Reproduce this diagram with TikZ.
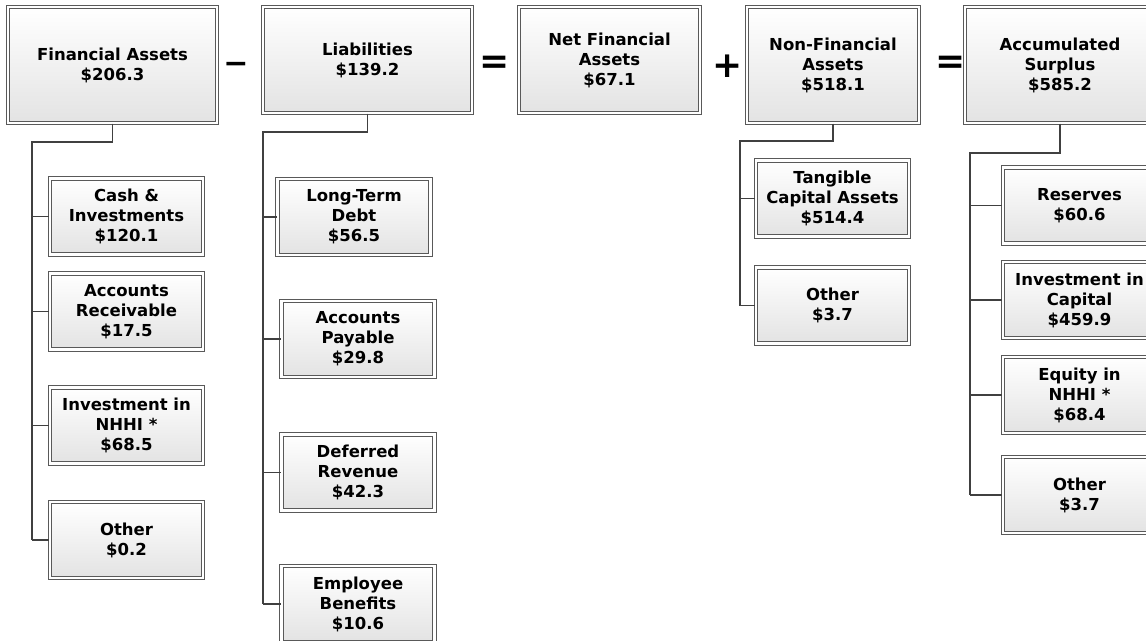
\documentclass[tikz,border=0pt]{standalone}
\usepackage{fontspec}
\setmainfont{DejaVu Sans}
\usetikzlibrary{shadows}

\tikzset{
  acct/.style={draw=black!65, line width=1.2pt, double=white, double distance=2.4pt,
    top color=white, bottom color=black!11, inner sep=0pt, align=center,
    minimum width=153pt, minimum height=76pt,
    drop shadow={shadow xshift=1pt, shadow yshift=-1pt, opacity=0.15},
    font=\bfseries\fontsize{16.5}{20}\selectfont},
  topacct/.style={acct, minimum height=106pt},
  opsign/.style={inner sep=0pt, font=\bfseries\fontsize{36}{36}\selectfont},
  conn/.style={draw=black!75, line width=1.2pt}
}

\begin{document}
\begin{tikzpicture}[x=1pt, y=-1pt]
    \useasboundingbox (0,0) rectangle (1146,640);
    \clip (0,0) rectangle (1146,640);

    \node[topacct, minimum width=209pt, minimum height=116pt] (fin) at (112.5,65) {Financial Assets\\\$206.3};
    \node[topacct, minimum width=209pt] (liab) at (367.5,60) {Liabilities\\\$139.2};
    \node[topacct, minimum width=181pt] (net) at (609.5,60) {Net Financial\\Assets\\\$67.1};
    \node[topacct, minimum width=172pt, minimum height=116pt] (nonfin) at (833,65) {Non-Financial\\Assets\\\$518.1};
    \node[topacct, minimum width=190pt, minimum height=116pt] (surplus) at (1060,65) {Accumulated\\Surplus\\\$585.2};

    \node[opsign, font=\bfseries\fontsize{30}{30}\selectfont] (minus) at (236,68) {−};
    \node[opsign] (eqa) at (495,65) {=};
    \node[opsign] (plus) at (728,66) {+};
    \node[opsign] (eqb) at (951,65) {=};

    \node[acct] (cash) at (126.5,216.5) {Cash \&\\Investments\\\$120.1};
    \node[acct] (recv) at (126.5,311.5) {Accounts\\Receivable\\\$17.5};
    \node[acct] (nhhi) at (126.5,425.5) {Investment in\\NHHI *\\\$68.5};
    \node[acct] (othfin) at (126.5,540) {Other\\\$0.2};

    \node[acct] (debt) at (354,217) {Long-Term\\Debt\\\$56.5};
    \node[acct] (payable) at (358,339) {Accounts\\Payable\\\$29.8};
    \node[acct] (deferred) at (358,472.5) {Deferred\\Revenue\\\$42.3};
    \node[acct] (benefits) at (358,604) {Employee\\Benefits\\\$10.6};

    \node[acct] (tangible) at (832.5,198.5) {Tangible\\Capital Assets\\\$514.4};
    \node[acct] (othnon) at (832.5,305.5) {Other\\\$3.7};

    \node[acct] (reserves) at (1079.5,205.5) {Reserves\\\$60.6};
    \node[acct] (invcap) at (1079.5,300) {Investment in\\Capital\\\$459.9};
    \node[acct] (equity) at (1079.5,395) {Equity in\\NHHI *\\\$68.4};
    \node[acct] (othsur) at (1079.5,495) {Other\\\$3.7};

    \coordinate (finbus) at (32,142);
    \coordinate (liabbus) at (263,132);
    \coordinate (nonbus) at (740,141);
    \coordinate (surbus) at (970,153);

    \draw[conn] (fin.south) |- (finbus) -- (finbus |- othfin.west);
    \draw[conn] (liab.south) |- (liabbus) -- (liabbus |- benefits.west);
    \draw[conn] (nonfin.south) |- (nonbus) -- (nonbus |- othnon.west);
    \draw[conn] (surplus.south) |- (surbus) -- (surbus |- othsur.west);

    \foreach \c in {cash,recv,nhhi,othfin}
        \draw[conn] (finbus |- \c.west) -- (\c.west);
    \foreach \c in {debt,payable,deferred,benefits}
        \draw[conn] (liabbus |- \c.west) -- (\c.west);
    \foreach \c in {tangible,othnon}
        \draw[conn] (nonbus |- \c.west) -- (\c.west);
    \foreach \c in {reserves,invcap,equity,othsur}
        \draw[conn] (surbus |- \c.west) -- (\c.west);
\end{tikzpicture}
\end{document}
